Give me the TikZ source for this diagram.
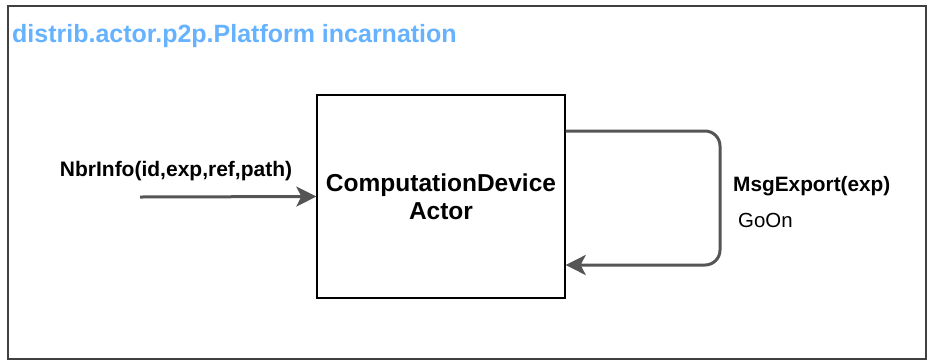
\documentclass[tikz,border=0pt]{standalone}
\usepackage{fontspec}
\setmainfont{Liberation Sans}
\usetikzlibrary{arrows.meta,positioning}
\definecolor{titleblue}{RGB}{102,178,255}
\definecolor{edgegray}{RGB}{85,85,85}

\begin{document}
\begin{tikzpicture}[x=1pt, y=-1pt]
        \tikzstyle{frame}=[draw=black!75, line width=1.8pt]
        \tikzstyle{actor}=[draw=black, line width=1.3pt, minimum width=248pt, minimum height=203pt, inner sep=0pt, align=center, font=\fontsize{24.5}{28}\selectfont\bfseries]
        \tikzstyle{label}=[fill=none, draw=none, inner sep=0pt]
        \tikzstyle{msg}=[draw=edgegray, line width=3pt, -{Stealth[length=20pt, width=20pt, inset=5pt]}, rounded corners=15pt]

        \useasboundingbox (0,0) rectangle (928,360);
        \draw [style=frame] (8,6) rectangle (926,359);

        \node [style=label, anchor=west, text=titleblue, font=\fontsize{25}{28}\selectfont\bfseries] (title) at (12,36) {distrib.actor.p2p.Platform incarnation};

        \node [style=actor] (dev) at (441,196.5) {ComputationDevice\\Actor};
        \coordinate (src) at (140,197);

        \node [style=label, font=\fontsize{21}{24}\selectfont\bfseries] (nbr) at (176,171) {NbrInfo(id,exp,ref,path)};
        \node [style=label, anchor=west, font=\fontsize{20.8}{24}\selectfont\bfseries] (export) at (733,186) {MsgExport(exp)};
        \node [style=label, anchor=west, font=\fontsize{20.4}{24}\selectfont] (goon) at (738,220) {GoOn};

        \draw [style=msg] (src) to (dev.west);
        \draw [style=msg] (dev.east |- 0,131) -- (720,131) -- (720,265) -- (dev.east |- 0,265);
    \end{tikzpicture}
\end{document}
